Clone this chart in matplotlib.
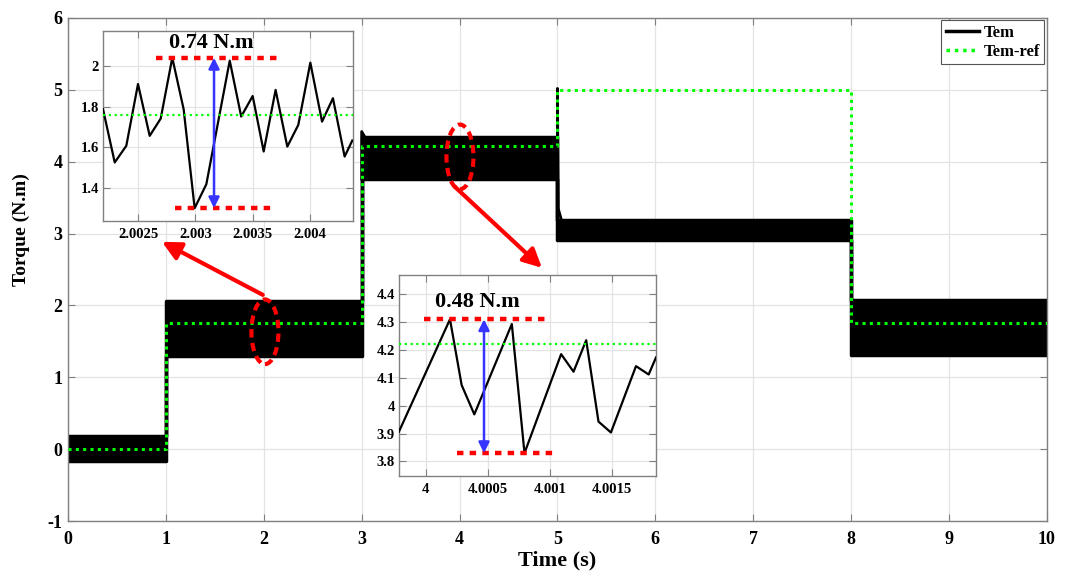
import numpy as np
import matplotlib
matplotlib.use("Agg")
import matplotlib.pyplot as plt
from matplotlib.patches import Ellipse
from matplotlib.lines import Line2D
from matplotlib.ticker import FuncFormatter

plt.rcParams['font.family'] = ['Liberation Serif', 'DejaVu Serif']
plt.rcParams['font.weight'] = 'bold'
plt.rcParams['axes.unicode_minus'] = False

# torque reference steps (N.m)
ref_t = [0, 1, 3, 5, 8, 10]
ref_v = [0.0, 1.76, 4.22, 5.0, 1.76]

# ripple envelope of the measured torque per step
band_lo = [-0.17, 1.30, 3.76, 2.91, 1.31]
band_hi = [0.18, 2.06, 4.35, 3.19, 2.07]

# start-up transients at the 3 s and 5 s steps
spike3_t = [3.0, 3.0, 3.03]
spike3_v = [3.76, 4.42, 4.35]
spike5_t = [5.0, 5.0, 5.008, 5.04]
spike5_v = [4.35, 5.02, 3.35, 3.19]

# zoom around t = 2 s
z1_t = [2.002195, 2.002297, 2.002398, 2.0025, 2.002602, 2.002698, 2.002799,
        2.002898, 2.002994, 2.003096, 2.0033, 2.0034, 2.0035, 2.003596,
        2.0037, 2.003802, 2.003898, 2.004003, 2.004105, 2.0042, 2.004302,
        2.004369]
z1_v = [1.787, 1.525, 1.607, 1.911, 1.656, 1.741, 2.04, 1.787, 1.30, 1.418,
        2.026, 1.751, 1.852, 1.579, 1.882, 1.603, 1.710, 2.016, 1.726, 1.841,
        1.554, 1.633]
z1_ref = 1.76

# zoom around t = 4 s
z2_t = [3.999785, 4.000196, 4.000290, 4.000392, 4.000694, 4.000796,
        4.001091, 4.001191, 4.001293, 4.001392, 4.001492, 4.001694,
        4.001796, 4.001855]
z2_v = [3.907, 4.31, 4.074, 3.969, 4.293, 3.83, 4.185, 4.122, 4.235, 3.943,
        3.904, 4.142, 4.112, 4.173]
z2_ref = 4.22

GREEN = '#00ff00'
GRID = '#e3e3e3'
EDGE = '#808080'
dotted = (0, (1, 1.4))

fig = plt.figure(figsize=(10.71, 5.75), dpi=100)
ax = fig.add_axes([0.0635, 0.0939, 0.914, 0.8748])


def style_axes(a, size):
    for s in a.spines.values():
        s.set_color(EDGE)
        s.set_linewidth(1.0)
    a.tick_params(direction='in', top=True, right=True, length=5,
                  color=EDGE, labelsize=size, labelcolor='black')
    a.grid(True, color=GRID, linewidth=0.9)
    a.set_axisbelow(True)
    for lab in a.get_xticklabels() + a.get_yticklabels():
        lab.set_fontweight('bold')


# measured torque: filled ripple band
lo = band_lo + [band_lo[-1]]
hi = band_hi + [band_hi[-1]]
band = ax.fill_between(ref_t, lo, hi, step='post', facecolor='black',
                       edgecolor='black', linewidth=2.5, zorder=2)
band.set_joinstyle('round')
ax.plot(spike3_t, spike3_v, color='black', lw=2, zorder=2)
ax.plot(spike5_t, spike5_v, color='black', lw=2, zorder=2)

# reference
ax.step(ref_t, ref_v + [ref_v[-1]], where='post', color=GREEN, lw=2.2,
        linestyle=dotted, zorder=3)

ax.set_xlim(0, 10)
ax.set_ylim(-1, 6)
ax.set_xticks(range(0, 11))
ax.set_yticks(range(-1, 7))
style_axes(ax, 13)
ax.tick_params(axis='x', pad=7)
ax.tick_params(axis='y', pad=4)
ax.set_xlabel('Time (s)', fontsize=16, fontweight='bold', labelpad=2)
ax.set_ylabel('Torque (N.m)', fontsize=14, fontweight='bold')
ax.yaxis.set_label_coords(-0.039, 0.58)

handles = [Line2D([], [], color='black', lw=2.5),
           Line2D([], [], color=GREEN, lw=2.5, linestyle=dotted)]
leg = ax.legend(handles, ['Tem', 'Tem-ref'], loc='upper right', fontsize=12,
                frameon=True, fancybox=False, framealpha=1,
                borderaxespad=0.15, handlelength=2.0, handletextpad=0.3,
                borderpad=0.25, labelspacing=0.2)
leg.get_frame().set_edgecolor('#555555')
leg.get_frame().set_linewidth(0.8)
for t in leg.get_texts():
    t.set_fontweight('bold')

# zoom markers and arrows
for cx, cy in [(2.012, 1.633), (4.004, 4.067)]:
    ax.add_patch(Ellipse((cx, cy), 0.276, 0.9, fill=False, edgecolor='red',
                         lw=3, linestyle=(0, (2, 1.3)), zorder=5))
ax.annotate('', xy=(0.96, 2.885), xytext=(1.99, 2.147),
            arrowprops=dict(arrowstyle='-|>', color='red', lw=3,
                            mutation_scale=28, shrinkA=0, shrinkB=0),
            annotation_clip=False, zorder=5)
ax.annotate('', xy=(4.842, 2.523), xytext=(3.953, 3.65),
            arrowprops=dict(arrowstyle='-|>', color='red', lw=3,
                            mutation_scale=28, shrinkA=0, shrinkB=0),
            annotation_clip=False, zorder=5)

fmt = FuncFormatter(lambda v, p: '%g' % v)
red_dash = dict(color='red', lw=3.2, linestyle=(0, (1.45, 1.4)),
                dash_capstyle='butt', zorder=4)


def inset(rect, t, v, ref, xlim, ylim, xticks, yticks, top_span, bot_span,
          arrow_x, text_xy):
    a = fig.add_axes(rect)
    a.plot(t, v, color='black', lw=1.6, zorder=3)
    a.axhline(ref, color=GREEN, lw=1.6, linestyle=(0, (1, 1.6)), zorder=3)
    vmax, vmin = max(v), min(v)
    a.plot(top_span, [vmax, vmax], **red_dash)
    a.plot(bot_span, [vmin, vmin], **red_dash)
    a.annotate('', xy=(arrow_x, vmin), xytext=(arrow_x, vmax),
               arrowprops=dict(arrowstyle='<|-|>', color='#3535ff', lw=1.8,
                               mutation_scale=16, shrinkA=0, shrinkB=0),
               zorder=4)
    a.text(text_xy[0], text_xy[1], '%.2f N.m' % (vmax - vmin),
           transform=a.transAxes, ha='center', va='center', fontsize=16,
           fontweight='bold', zorder=5)
    a.set_xlim(*xlim)
    a.set_ylim(*ylim)
    a.set_xticks(xticks)
    a.set_yticks(yticks)
    a.xaxis.set_major_formatter(fmt)
    a.yaxis.set_major_formatter(fmt)
    style_axes(a, 10.5)
    a.tick_params(axis='x', pad=5)
    a.tick_params(axis='y', pad=3)
    return a


inset([0.0962, 0.6157, 0.2334, 0.3304], z1_t, z1_v, z1_ref,
      (2.002195, 2.004375), (1.237, 2.172),
      [2.0025, 2.003, 2.0035, 2.004], [1.4, 1.6, 1.8, 2.0],
      (2.00266, 2.00375), (2.00282, 2.00369), 2.003163, (0.435, 0.935))

inset([0.3725, 0.1722, 0.2400, 0.3496], z2_t, z2_v, z2_ref,
      (3.999785, 4.001855), (3.748, 4.469),
      [4.0, 4.0005, 4.001, 4.0015], [3.8, 3.9, 4.0, 4.1, 4.2, 4.3, 4.4],
      (3.999989, 4.000989), (4.000250, 4.001043), 4.000470, (0.305, 0.865))

fig.savefig('out.png', dpi=100)
